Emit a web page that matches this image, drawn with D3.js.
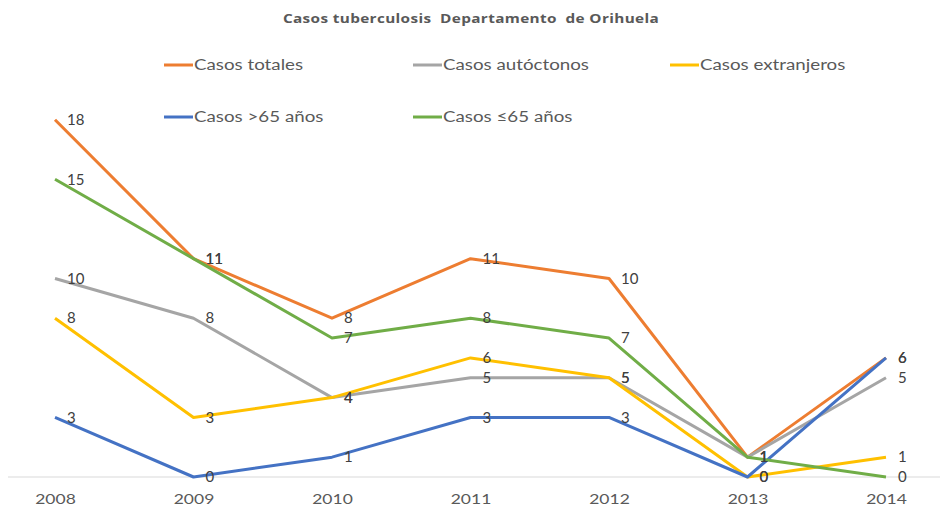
<!DOCTYPE html>
<html><head><meta charset="utf-8">
<script src="https://cdn.jsdelivr.net/npm/d3@7/dist/d3.min.js"></script>
<style>body{margin:0;background:#fff}svg{display:block}</style>
</head><body>
<svg id="c" width="946" height="511"></svg>
<script>
const years = ["2008","2009","2010","2011","2012","2013","2014"];
const seriesNames = ["Casos totales","Casos autóctonos","Casos extranjeros","Casos >65 años","Casos ≤65 años"];
const seriesColors = ["#ED7D31","#A5A5A5","#FFC000","#4472C4","#70AD47"];
const totales = [18,11,8,11,10,1,6];
const autoctonos = [10,8,4,5,5,1,5];
const extranjeros = [8,3,4,6,5,0,1];
const mayores65 = [3,0,1,3,3,0,6];
const menores65 = [15,11,7,8,7,1,0];
const seriesValues = [totales, autoctonos, extranjeros, mayores65, menores65];
const title = "Casos tuberculosis  Departamento  de Orihuela";

const svg = d3.select("#c");
const x = d3.scalePoint().domain(years).range([55, 886]);
const y = d3.scaleLinear().domain([0, 20]).range([477, 80]);

svg.append("text").attr("transform","translate(471,23) scale(1.18,1)").attr("text-anchor","middle")
  .attr("font-family","Open Sans, sans-serif").attr("font-weight","bold")
  .attr("font-size", 13).attr("letter-spacing", 0.3).attr("fill","#595959")
  .attr("xml:space","preserve").style("white-space","pre").text(title);

// baseline axis
const xAxis = d3.axisBottom(x).tickSize(0).tickPadding(0);
const gx = svg.append("g").attr("transform","translate(0,477)").call(xAxis);
gx.select(".domain").remove();
gx.append("line").attr("x1",8).attr("x2",940).attr("y1",0).attr("y2",0).attr("stroke","#d9d9d9").attr("stroke-width",1);
gx.selectAll(".tick text").attr("dy",null).attr("y",null)
  .attr("transform","translate(0,27) scale(1.25,1)")
  .attr("font-family","Lato, sans-serif").attr("font-size",14).attr("fill","#595959");

// legend
const legendPos = [[164,65],[413,65],[670,65],[164,117],[413,117]];
seriesNames.forEach((n,i)=>{
  const g = svg.append("g").attr("transform",`translate(${legendPos[i][0]},${legendPos[i][1]})`);
  g.append("line").attr("x1",0).attr("x2",29).attr("y1",0).attr("y2",0).attr("stroke",seriesColors[i]).attr("stroke-width",3);
  g.append("text").attr("transform","translate(30,0) scale(1.25,1)").attr("dy","0.35em").attr("font-family","Lato, sans-serif")
    .attr("font-size",15).attr("fill","#595959").text(n);
});

const line = d3.line().x((d,i)=>x(years[i])).y(d=>y(d));
seriesValues.forEach((vals,i)=>{
  svg.append("path").datum(vals).attr("d",line).attr("fill","none")
    .attr("stroke",seriesColors[i]).attr("stroke-width",3).attr("stroke-linejoin","round");
});
seriesValues.forEach((vals,i)=>{
  svg.append("g").selectAll("text").data(vals).join("text")
    .attr("x",(d,j)=>x(years[j])+12).attr("y",d=>y(d)).attr("dy","0.35em")
    .attr("font-family","Lato, sans-serif").attr("font-size",15).attr("fill","#404040").text(d=>d);
});
</script>
</body></html>
